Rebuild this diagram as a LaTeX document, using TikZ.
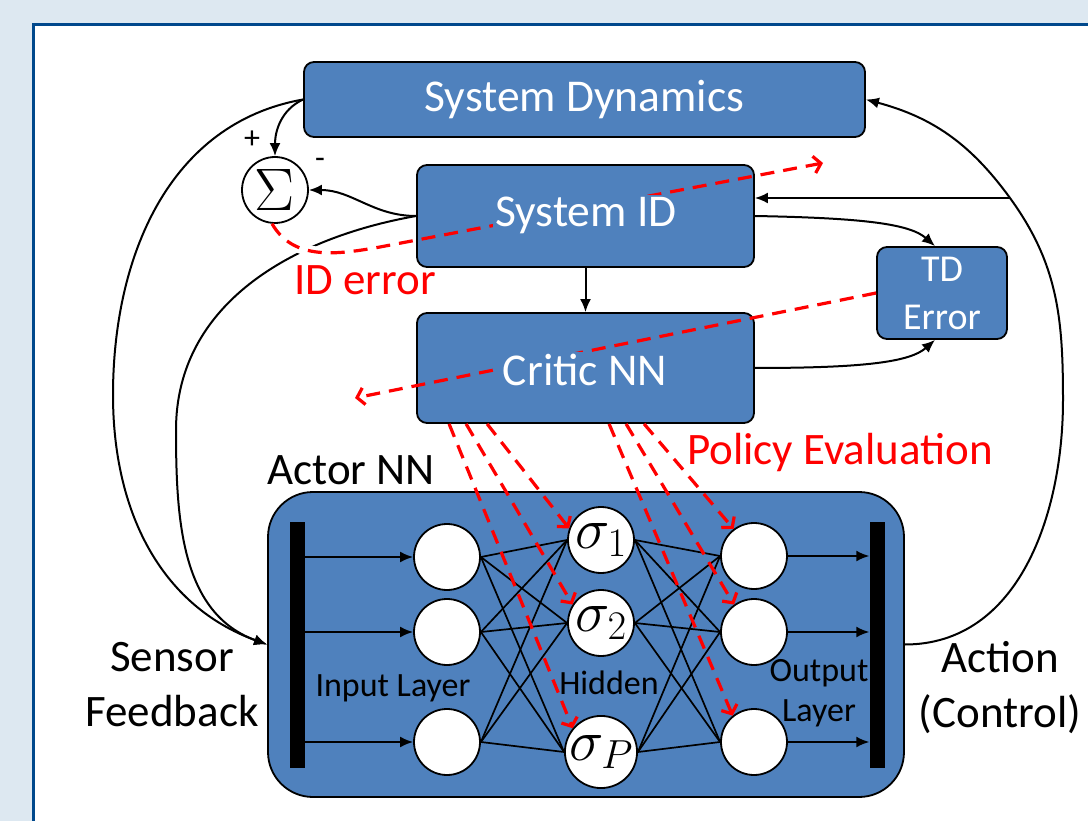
\RequirePackage{fix-cm}
\documentclass[tikz,border=0pt]{standalone}
\usepackage{fontspec}
\setmainfont{Carlito}
\usepackage{tikz}
\usetikzlibrary{arrows.meta,positioning,calc}
\definecolor{boxblue}{RGB}{79,129,189}
\definecolor{panelblue}{RGB}{221,232,241}
\definecolor{frameblue}{RGB}{0,72,140}
\definecolor{errred}{RGB}{255,0,0}

\begin{document}
\begin{tikzpicture}[x=1pt, y=-1pt,
    blk/.style={draw=black, line width=1.8pt, fill=boxblue, rounded corners=10pt, text=white, inner sep=0pt},
    blktext/.style={fill=boxblue, text=white, inner sep=2pt, font=\fontsize{45.5}{52}\selectfont},
    neuron/.style={circle, draw=black, line width=1.8pt, fill=white, minimum size=66pt, inner sep=0pt},
    bar/.style={fill=black, minimum width=15pt, minimum height=246pt, inner sep=0pt},
    flow/.style={line width=2pt, -{Latex[length=13pt,width=11pt]}},
    wire/.style={line width=1.7pt},
    redflow/.style={errred, line width=3.2pt, dash pattern=on 14pt off 9pt, -{Straight Barb[length=7pt,width=17pt]}},
    lbl/.style={font=\fontsize{45}{55}\selectfont, align=center},
    small/.style={font=\fontsize{34}{40}\selectfont, align=center}
]
    % Frame
    \useasboundingbox (0,0) rectangle (1088,821);
    \clip (0,0) rectangle (1088,821);
    \fill[panelblue] (0,0) rectangle (1088,821);
    \draw[frameblue, line width=3pt, fill=white] (33,25) rectangle (1120,850);

    % Blocks
    \node[blk, minimum width=561pt, minimum height=75pt, font=\fontsize{45.5}{52}\selectfont] (sd) at (584.5,99.5) {System Dynamics};
    \node[blk, minimum width=337pt, minimum height=102pt] (sysid) at (585.5,216) {};
    \node[blk, minimum width=337pt, minimum height=110pt] (critic) at (585.5,368) {};
    \node[blk, minimum width=130pt, minimum height=92pt, align=center, font=\fontsize{38}{48}\selectfont] (td) at (942,293) {TD\\Error};
    \node[blk, minimum width=636pt, minimum height=305pt, rounded corners=45pt] (actor) at (586,644.5) {};

    % Summing junction
    \node[circle, draw=black, line width=1.8pt, fill=white, minimum size=66pt, inner sep=0pt, font=\fontsize{60}{60}\selectfont] (sum) at (275,190) {$\Sigma$};
    \node[font=\fontsize{32}{32}\selectfont] (plus) at (252,140) {+};
    \node[font=\fontsize{32}{32}\selectfont] (minus) at (320,163) {-};

    % Actor network
    \node[bar] (inbar) at (297.5,645) {};
    \node[bar] (outbar) at (877,645) {};
    \node[neuron] (in1) at (447,557) {};
    \node[neuron] (in2) at (447,632) {};
    \node[neuron] (in3) at (447,742) {};
    \node[neuron, font=\fontsize{58}{58}\selectfont] (hid1) at (601,540) {$\sigma_1$};
    \node[neuron, font=\fontsize{58}{58}\selectfont] (hid2) at (601,623) {$\sigma_2$};
    \node[neuron, font=\fontsize{58}{58}\selectfont] (hid3) at (601,752) {$\sigma_P$};
    \node[neuron] (out1) at (754,556) {};
    \node[neuron] (out2) at (754,632) {};
    \node[neuron] (out3) at (754,742) {};

    \foreach \i in {1,2,3} {
        \draw[flow] (inbar.east |- in\i) -- (in\i.west);
        \draw[flow] (out\i.east) -- (outbar.west |- out\i);
        \foreach \j in {1,2,3} {
            \draw[wire] (in\i.east) -- (hid\j.west);
            \draw[wire] (hid\i.east) -- (out\j.west);
        }
    }

    % Bend points
    \coordinate (lbend-out) at (113,395);
    \coordinate (lbend-in) at (176,430);
    \coordinate (rbend) at (1063,400);
    \coordinate (tap) at (1010,198);
    \coordinate (iderr-bend) at (380,247);
    \coordinate (iderr-tip) at (823,163);
    \coordinate (td-tip) at (355,398);

    % Connectors
    \draw[flow] (sd.west) to[out=205,in=90] (sum.north);
    \draw[flow] (sysid.west) to[out=180,in=0] (sum.east);
    \draw[flow] (sd.west) to[out=190,in=90] (lbend-out) to[out=-90,in=160] (actor.west);
    \draw[flow] (sysid.west) to[out=190,in=90] (lbend-in) to[out=-90,in=160] (actor.west);
    \draw[flow] (actor.east) to[out=0,in=-90] (rbend) to[out=90,in=-54] (tap) to[out=126,in=-15] (sd.east);
    \draw[flow] (tap) -- (tap -| sysid.east);
    \draw[flow] (sysid.south) -- (critic.north);
    \draw[flow] (sysid.east) .. controls +(110,2) and +(-25,-22) .. ([xshift=-7pt]td.north);
    \draw[flow] (critic.east) .. controls +(110,0) and +(-25,22) .. ([xshift=-7pt]td.south);

    % Error signals
    \begin{scope}
        \clip (283,228) rectangle (332,262);
        \draw[white, line width=11pt] (sum.-95) to[out=-60,in=190] (iderr-bend) -- (iderr-tip);
    \end{scope}
    \draw[redflow] (sum.-95) to[out=-60,in=190] (iderr-bend) -- (iderr-tip);
    \draw[redflow] (td.west) -- (td-tip);
    \foreach \dx/\tgt in {33/hid3.140, 50/hid2.147, 71/hid1.160, 193/out3.129, 210/out2.126, 228/out1.127}
        \draw[redflow] ([xshift=\dx pt]critic.south west) -- (\tgt);

    % Labels
    \node[blktext] (sysid-label) at (586,215) {System ID};
    \node[blktext] (critic-label) at (585,370) {Critic NN};
    \node[lbl, text=errred] (iderr-label) at (365,280) {ID error};
    \node[lbl, text=errred] (policy-label) at (840,453) {Policy Evaluation};
    \node[lbl] (actor-label) at (351,470) {Actor NN};
    \node[lbl] (sensor-label) at (172,685) {Sensor\\Feedback};
    \node[lbl] (action-label) at (1000,688) {Action\\(Control)};
    \node[small] (input-label) at (393,688) {Input Layer};
    \node[small] (hidden-label) at (609,683) {Hidden};
    \node[small] (output-label) at (819,693) {Output\\Layer};
\end{tikzpicture}
\end{document}
